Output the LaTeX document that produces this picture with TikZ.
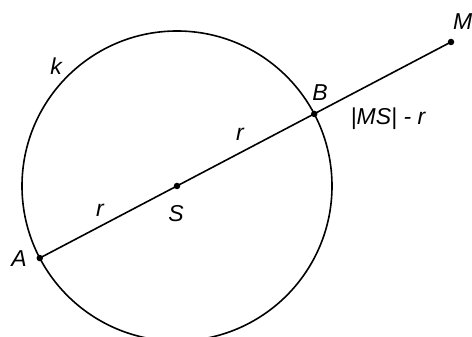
\documentclass[tikz,border=0pt]{standalone}
\usepackage{fontspec}
\setmainfont{Liberation Sans}
\usetikzlibrary{calc}
\begin{document}
\begin{tikzpicture}[x=1pt,y=1pt,
  geo/.style={line width=1.6pt,black},
  pt/.style={circle,fill=black,inner sep=0pt,minimum size=6.5pt},
  lbl/.style={font=\fontsize{23}{27}\selectfont\itshape,inner sep=0pt}]
\useasboundingbox (0,0) rectangle (472,337);
\coordinate (S) at (177,151);
\coordinate (A) at ($(S)+(207.7:155)$);
\coordinate (B) at ($(S)+(27.7:155)$);
\coordinate (M) at (451,295);
\draw[geo] (S) circle[radius=155];
\draw[geo] (A) -- (M);
\node[pt] (nS) at (S) {};
\node[pt] (nA) at (A) {};
\node[pt] (nB) at (B) {};
\node[pt] (nM) at (M) {};
\node[lbl] (lk) at (56,271) {k};
\node[lbl] (lA) at (19,78) {A};
\node[lbl] (lB) at (320,244) {B};
\node[lbl,anchor=west] (lM) at (453,315) {M};
\node[lbl] (lS) at (176,123) {S};
\node[lbl] (lr1) at (100,127) {r};
\node[lbl] (lr2) at (240,203) {r};
\node[lbl] (lMS) at (388,218) {|MS| - r};
\end{tikzpicture}
\end{document}
